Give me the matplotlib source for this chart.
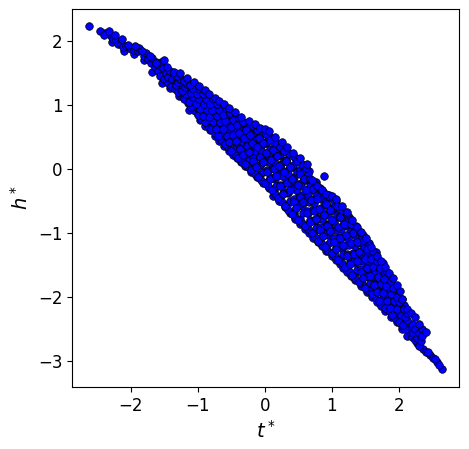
import matplotlib
matplotlib.use("Agg")
import matplotlib.pyplot as pl

# points, inner cloud first
t_core = [
    -1.30, -1.27, -1.33, -1.29, -1.26, -1.31,
    -1.20, -1.17, -1.23, -1.19, -1.16, -1.21,
    -1.10, -1.13, -1.07, -1.11, -1.08, -1.12,
    -1.00, -0.97, -1.03, -0.99, -1.02, -0.98,
    -0.90, -0.93, -0.87, -0.91, -0.88, -0.92,
    -0.80, -0.77, -0.83, -0.79, -0.82, -0.78,
    -0.70, -0.73, -0.67, -0.71, -0.68, -0.72,
    -0.60, -0.57, -0.63, -0.59, -0.62, -0.58,
    -0.50, -0.53, -0.47, -0.51, -0.48, -0.52,
    -0.40, -0.37, -0.43, -0.39, -0.42, -0.38,
    -0.30, -0.33, -0.27, -0.31, -0.28, -0.32,
    -0.20, -0.17, -0.23, -0.19, -0.22, -0.18,
    -0.10, -0.13, -0.07, -0.11, -0.08, -0.12,
    0.00, 0.03, -0.03, 0.01, -0.02, 0.02,
    0.10, 0.07, 0.13, 0.09, 0.12, 0.08,
    0.20, 0.23, 0.17, 0.21, 0.18, 0.22,
    0.30, 0.27, 0.33, 0.29, 0.32, 0.28,
    0.40, 0.43, 0.37, 0.41, 0.38, 0.42,
    0.50, 0.47, 0.53, 0.49, 0.52, 0.48,
    0.60, 0.63, 0.57, 0.61, 0.58, 0.62,
    0.70, 0.67, 0.73, 0.69, 0.72, 0.68,
    0.80, 0.83, 0.77, 0.81, 0.78, 0.82,
    0.90, 0.87, 0.93, 0.89, 0.92, 0.88,
    1.00, 1.03, 0.97, 1.01, 0.98, 1.02,
    1.10, 1.07, 1.13, 1.09, 1.12, 1.08,
    1.20, 1.23, 1.17, 1.21, 1.18, 1.22,
    1.30, 1.27, 1.33, 1.29, 1.32, 1.28,
    1.40, 1.43, 1.37, 1.41, 1.38, 1.42,
    1.50, 1.47, 1.53, 1.49, 1.52, 1.48,
    1.60, 1.63, 1.57, 1.61, 1.58, 1.62,
    1.70, 1.67, 1.73, 1.69, 1.72, 1.68,
    1.80, 1.83, 1.77, 1.81, 1.78, 1.82,
    1.90, 1.87, 1.93, 1.89, 1.92, 1.88,
    2.00, 2.03, 1.97, 2.01, 1.98, 2.02,
    2.10, 2.07, 2.13, 2.09, 2.12, 2.08,
]
h_core = [
    1.20, 1.26, 1.31, 1.36, 1.41, 1.45,
    1.10, 1.17, 1.22, 1.28, 1.33, 1.38,
    0.97, 1.05, 1.12, 1.19, 1.25, 1.31,
    0.85, 0.94, 1.02, 1.10, 1.18, 1.25,
    0.74, 0.83, 0.93, 1.02, 1.10, 1.18,
    0.63, 0.73, 0.82, 0.92, 1.01, 1.09,
    0.51, 0.62, 0.73, 0.83, 0.93, 1.02,
    0.40, 0.52, 0.63, 0.75, 0.85, 0.95,
    0.29, 0.42, 0.54, 0.66, 0.77, 0.87,
    0.18, 0.31, 0.44, 0.57, 0.69, 0.80,
    0.08, 0.22, 0.36, 0.49, 0.61, 0.73,
    -0.02, 0.13, 0.27, 0.41, 0.54, 0.67,
    -0.12, 0.03, 0.19, 0.34, 0.48, 0.61,
    -0.21, -0.05, 0.11, 0.26, 0.41, 0.55,
    -0.33, -0.16, 0.00, 0.15, 0.30, 0.45,
    -0.45, -0.27, -0.10, 0.05, 0.21, 0.35,
    -0.57, -0.39, -0.21, -0.04, 0.12, 0.28,
    -0.70, -0.51, -0.33, -0.15, 0.03, 0.21,
    -0.80, -0.61, -0.43, -0.25, -0.07, 0.12,
    -0.88, -0.69, -0.51, -0.33, -0.15, 0.02,
    -1.00, -0.82, -0.65, -0.48, -0.31, -0.15,
    -1.12, -0.95, -0.78, -0.62, -0.46, -0.30,
    -1.22, -1.05, -0.88, -0.71, -0.54, -0.38,
    -1.31, -1.14, -0.97, -0.80, -0.63, -0.47,
    -1.41, -1.24, -1.07, -0.90, -0.74, -0.58,
    -1.53, -1.36, -1.19, -1.02, -0.86, -0.70,
    -1.65, -1.48, -1.32, -1.16, -1.00, -0.85,
    -1.76, -1.60, -1.44, -1.29, -1.13, -0.98,
    -1.85, -1.70, -1.55, -1.40, -1.25, -1.10,
    -1.95, -1.81, -1.67, -1.53, -1.40, -1.27,
    -2.05, -1.92, -1.80, -1.68, -1.55, -1.43,
    -2.17, -2.05, -1.94, -1.83, -1.71, -1.60,
    -2.28, -2.17, -2.06, -1.95, -1.85, -1.75,
    -2.38, -2.28, -2.18, -2.08, -1.99, -1.90,
    -2.50, -2.43, -2.36, -2.30, -2.24, -2.18,
]

# second pass through the cloud, between the columns above
t_fill = [
    -1.25, -1.23, -1.27, -1.24, -1.26, -1.22, -1.28, -1.25,
    -1.15, -1.13, -1.17, -1.14, -1.16, -1.12, -1.18, -1.15,
    -1.05, -1.03, -1.07, -1.04, -1.06, -1.02, -1.08, -1.05,
    -0.95, -0.93, -0.97, -0.94, -0.96, -0.92, -0.98, -0.95,
    -0.85, -0.83, -0.87, -0.84, -0.86, -0.82, -0.88, -0.85,
    -0.75, -0.73, -0.77, -0.74, -0.76, -0.72, -0.78, -0.75,
    -0.65, -0.63, -0.67, -0.64, -0.66, -0.62, -0.68, -0.65,
    -0.55, -0.53, -0.57, -0.54, -0.56, -0.52, -0.58, -0.55,
    -0.45, -0.43, -0.47, -0.44, -0.46, -0.42, -0.48, -0.45,
    -0.35, -0.33, -0.37, -0.34, -0.36, -0.32, -0.38, -0.35,
    -0.25, -0.23, -0.27, -0.24, -0.26, -0.22, -0.28, -0.25,
    -0.15, -0.13, -0.17, -0.14, -0.16, -0.12, -0.18, -0.15,
    -0.05, -0.03, -0.07, -0.04, -0.06, -0.02, -0.08, -0.05,
    0.05, 0.07, 0.03, 0.06, 0.04, 0.08, 0.02, 0.05,
    0.15, 0.17, 0.13, 0.16, 0.14, 0.18, 0.12, 0.15,
    0.25, 0.27, 0.23, 0.26, 0.24, 0.28, 0.22, 0.25,
    0.35, 0.37, 0.33, 0.36, 0.34, 0.38, 0.32, 0.35,
    0.45, 0.47, 0.43, 0.46, 0.44, 0.48, 0.42, 0.45,
    0.55, 0.57, 0.53, 0.56, 0.54, 0.58, 0.52, 0.55,
    0.65, 0.67, 0.63, 0.66, 0.64, 0.68, 0.62, 0.65,
    0.75, 0.77, 0.73, 0.76, 0.74, 0.78, 0.72, 0.75,
    0.85, 0.87, 0.83, 0.86, 0.84, 0.88, 0.82, 0.85,
    0.95, 0.97, 0.93, 0.96, 0.94, 0.98, 0.92, 0.95,
    1.05, 1.07, 1.03, 1.06, 1.04, 1.08, 1.02, 1.05,
    1.15, 1.17, 1.13, 1.16, 1.14, 1.18, 1.12, 1.15,
    1.25, 1.27, 1.23, 1.26, 1.24, 1.28, 1.22, 1.25,
    1.35, 1.37, 1.33, 1.36, 1.34, 1.38, 1.32, 1.35,
    1.45, 1.47, 1.43, 1.46, 1.44, 1.48, 1.42, 1.45,
    1.55, 1.57, 1.53, 1.56, 1.54, 1.58, 1.52, 1.55,
    1.65, 1.67, 1.63, 1.66, 1.64, 1.68, 1.62, 1.65,
    1.75, 1.77, 1.73, 1.76, 1.74, 1.78, 1.72, 1.75,
    1.85, 1.87, 1.83, 1.86, 1.84, 1.88, 1.82, 1.85,
    1.95, 1.97, 1.93, 1.96, 1.94, 1.98, 1.92, 1.95,
    2.05, 2.07, 2.03, 2.06, 2.04, 2.08, 2.02, 2.05,
]
h_fill = [
    1.15, 1.19, 1.23, 1.26, 1.30, 1.33, 1.37, 1.41,
    1.03, 1.08, 1.13, 1.18, 1.22, 1.26, 1.30, 1.35,
    0.91, 0.97, 1.03, 1.09, 1.14, 1.19, 1.24, 1.29,
    0.79, 0.86, 0.93, 1.00, 1.06, 1.12, 1.18, 1.23,
    0.68, 0.76, 0.83, 0.90, 0.97, 1.03, 1.09, 1.15,
    0.57, 0.65, 0.73, 0.81, 0.88, 0.95, 1.01, 1.07,
    0.45, 0.54, 0.63, 0.71, 0.79, 0.86, 0.93, 0.99,
    0.34, 0.43, 0.52, 0.61, 0.69, 0.77, 0.84, 0.91,
    0.23, 0.33, 0.43, 0.52, 0.61, 0.69, 0.77, 0.84,
    0.13, 0.23, 0.34, 0.44, 0.53, 0.62, 0.70, 0.77,
    0.03, 0.14, 0.25, 0.35, 0.45, 0.54, 0.62, 0.70,
    -0.07, 0.05, 0.17, 0.28, 0.38, 0.48, 0.57, 0.64,
    -0.17, -0.05, 0.07, 0.19, 0.30, 0.40, 0.50, 0.58,
    -0.27, -0.14, -0.01, 0.11, 0.22, 0.32, 0.42, 0.50,
    -0.39, -0.26, -0.13, -0.01, 0.11, 0.21, 0.31, 0.40,
    -0.51, -0.37, -0.24, -0.11, 0.01, 0.12, 0.23, 0.32,
    -0.63, -0.49, -0.35, -0.21, -0.08, 0.04, 0.15, 0.25,
    -0.75, -0.60, -0.46, -0.32, -0.18, -0.05, 0.07, 0.17,
    -0.84, -0.69, -0.55, -0.41, -0.27, -0.14, -0.02, 0.07,
    -0.94, -0.80, -0.66, -0.52, -0.39, -0.27, -0.16, -0.07,
    -1.06, -0.92, -0.79, -0.66, -0.53, -0.41, -0.31, -0.23,
    -1.17, -1.03, -0.90, -0.77, -0.64, -0.52, -0.42, -0.34,
    -1.27, -1.13, -0.99, -0.85, -0.72, -0.60, -0.50, -0.42,
    -1.36, -1.22, -1.08, -0.95, -0.83, -0.71, -0.61, -0.53,
    -1.47, -1.33, -1.19, -1.06, -0.94, -0.82, -0.72, -0.64,
    -1.59, -1.45, -1.32, -1.19, -1.07, -0.96, -0.86, -0.77,
    -1.70, -1.57, -1.44, -1.32, -1.20, -1.09, -0.99, -0.91,
    -1.80, -1.68, -1.56, -1.44, -1.33, -1.22, -1.13, -1.05,
    -1.90, -1.78, -1.67, -1.56, -1.45, -1.36, -1.27, -1.19,
    -2.00, -1.89, -1.79, -1.69, -1.59, -1.50, -1.42, -1.35,
    -2.11, -2.01, -1.92, -1.83, -1.74, -1.66, -1.58, -1.52,
    -2.22, -2.13, -2.04, -1.96, -1.88, -1.81, -1.74, -1.67,
    -2.33, -2.25, -2.17, -2.09, -2.01, -1.95, -1.88, -1.83,
    -2.45, -2.38, -2.31, -2.24, -2.18, -2.12, -2.07, -2.03,
]

# third pass over the wide middle of the band
t_mid = [
    -0.27, -0.25, -0.29, -0.26, -0.28, -0.24,
    -0.17, -0.15, -0.19, -0.16, -0.18, -0.14,
    -0.07, -0.05, -0.09, -0.06, -0.08, -0.04,
    0.03, 0.05, 0.01, 0.04, 0.02, 0.06,
    0.13, 0.15, 0.11, 0.14, 0.12, 0.16,
    0.23, 0.25, 0.21, 0.24, 0.22, 0.26,
    0.33, 0.35, 0.31, 0.34, 0.32, 0.36,
    0.43, 0.45, 0.41, 0.44, 0.42, 0.46,
    0.53, 0.55, 0.51, 0.54, 0.52, 0.56,
    0.63, 0.65, 0.61, 0.64, 0.62, 0.66,
    0.73, 0.75, 0.71, 0.74, 0.72, 0.76,
    0.83, 0.85, 0.81, 0.84, 0.82, 0.86,
    0.93, 0.95, 0.91, 0.94, 0.92, 0.96,
    1.03, 1.05, 1.01, 1.04, 1.02, 1.06,
    1.13, 1.15, 1.11, 1.14, 1.12, 1.16,
    1.23, 1.25, 1.21, 1.24, 1.22, 1.26,
    1.33, 1.35, 1.31, 1.34, 1.32, 1.36,
    1.43, 1.45, 1.41, 1.44, 1.42, 1.46,
    1.53, 1.55, 1.51, 1.54, 1.52, 1.56,
    1.63, 1.65, 1.61, 1.64, 1.62, 1.66,
    1.73, 1.75, 1.71, 1.74, 1.72, 1.76,
]
h_mid = [
    0.12, 0.25, 0.38, 0.50, 0.60, 0.70,
    0.02, 0.17, 0.30, 0.44, 0.55, 0.65,
    -0.08, 0.08, 0.23, 0.37, 0.50, 0.60,
    -0.20, -0.03, 0.12, 0.27, 0.41, 0.52,
    -0.32, -0.15, 0.02, 0.17, 0.30, 0.42,
    -0.44, -0.26, -0.08, 0.08, 0.22, 0.33,
    -0.56, -0.37, -0.19, -0.02, 0.13, 0.25,
    -0.68, -0.49, -0.30, -0.13, 0.04, 0.18,
    -0.77, -0.58, -0.40, -0.22, -0.05, 0.08,
    -0.87, -0.68, -0.50, -0.33, -0.17, -0.03,
    -0.98, -0.81, -0.64, -0.47, -0.33, -0.20,
    -1.10, -0.93, -0.76, -0.60, -0.45, -0.32,
    -1.19, -1.02, -0.85, -0.69, -0.54, -0.41,
    -1.29, -1.12, -0.95, -0.79, -0.64, -0.50,
    -1.40, -1.23, -1.06, -0.90, -0.75, -0.62,
    -1.52, -1.35, -1.19, -1.03, -0.88, -0.75,
    -1.63, -1.47, -1.31, -1.16, -1.01, -0.89,
    -1.74, -1.58, -1.43, -1.28, -1.14, -1.02,
    -1.84, -1.69, -1.54, -1.40, -1.27, -1.15,
    -1.94, -1.80, -1.67, -1.54, -1.41, -1.30,
    -2.05, -1.92, -1.80, -1.68, -1.57, -1.47,
]

# narrow upper left end of the band
t_head = [-2.38, -2.30, -2.27, -2.22, -2.20, -2.15, -2.12, -2.08, -2.03, -2.00, -1.95, -1.90,
          -1.88, -1.80, -1.78, -1.74, -1.70, -1.68, -1.64, -1.62, -1.60, -1.58, -1.55, -1.56,
          -1.52, -1.50, -1.48, -1.45, -1.44, -1.42, -1.40, -1.38, -1.36, -1.34, -1.33, -1.31]
h_head = [2.12, 2.08, 2.03, 2.02, 1.96, 1.96, 1.90, 1.92, 1.90, 1.87, 1.86, 1.84,
          1.89, 1.76, 1.81, 1.72, 1.66, 1.73, 1.60, 1.68, 1.54, 1.62, 1.68, 1.45,
          1.58, 1.40, 1.50, 1.35, 1.44, 1.54, 1.30, 1.40, 1.48, 1.25, 1.34, 1.43]

# lower right end and the thin tail
t_tail = [2.16, 2.18, 2.20, 2.20, 2.22, 2.24, 2.25, 2.28, 2.30, 2.31, 2.33, 2.35, 2.41, 2.44, 2.51, 2.54, 2.60]
h_tail = [-2.48, -2.55, -2.42, -2.62, -2.56, -2.66, -2.50, -2.63, -2.55, -2.76, -2.68, -2.49, -2.85, -2.86, -2.95, -2.97, -3.06]

# lower side of the band
t_lower = [-2.28, -2.10, -1.95, -1.81, -1.68, -1.54, -1.41, -1.28, -1.13, -0.97, -0.90, -0.82,
           -0.75, -0.68, -0.61, -0.54, -0.48, -0.42, -0.36, -0.30, -0.21, -0.12, -0.03, 0.06,
           0.12, 0.21, 0.30, 0.38, 0.45, 0.52, 0.60, 0.66, 0.72, 0.79, 0.85, 0.92, 1.00, 1.06,
           1.12, 1.17, 1.22, 1.28, 1.34, 1.43, 1.52, 1.60, 1.67, 1.73, 1.79, 1.88, 1.97, 2.05,
           2.13, 2.27, 2.36, 2.46, 2.57, 2.64]
h_lower = [1.99, 1.84, 1.80, 1.70, 1.52, 1.34, 1.26, 1.14, 0.92, 0.76, 0.68, 0.61,
           0.52, 0.44, 0.36, 0.28, 0.22, 0.17, 0.11, 0.05, -0.04, -0.13, -0.21, -0.30,
           -0.42, -0.50, -0.59, -0.68, -0.78, -0.85, -0.93, -1.00, -1.07, -1.13, -1.20, -1.28, -1.36, -1.42,
           -1.48, -1.54, -1.60, -1.66, -1.73, -1.82, -1.92, -2.00, -2.07, -2.14, -2.21, -2.30, -2.38, -2.49,
           -2.60, -2.71, -2.80, -2.90, -3.01, -3.12]

# upper side of the band, drawn last
t_upper = [-2.63, -2.46, -2.40, -2.33, -2.24, -2.13, -2.05, -1.94, -1.84, -1.72, -1.62, -1.51,
           -1.46, -1.36, -1.27, -1.16, -1.06, -0.98, -0.90, -0.83, -0.75, -0.68, -0.61, -0.53,
           -0.45, -0.35, -0.24, -0.15, -0.07, 0.00, 0.06, 0.15, 0.25, 0.33, 0.42, 0.52,
           0.63, 0.70, 0.88, 0.78, 0.85, 0.92, 1.00, 1.07, 1.15, 1.22, 1.30, 1.37, 1.44, 1.51,
           1.59, 1.67, 1.73, 1.79, 1.85, 1.91, 1.97, 2.05, 2.13, 2.18, 2.24, 2.30, 2.34, 2.40]
h_upper = [2.24, 2.16, 2.10, 2.15, 2.09, 2.03, 1.94, 1.92, 1.85, 1.76, 1.66, 1.70,
           1.59, 1.52, 1.50, 1.43, 1.36, 1.30, 1.23, 1.17, 1.11, 1.06, 1.01, 0.95,
           0.89, 0.82, 0.75, 0.70, 0.65, 0.62, 0.59, 0.50, 0.42, 0.34, 0.26, 0.17,
           0.08, -0.17, -0.11, -0.26, -0.33, -0.38, -0.42, -0.47, -0.58, -0.67, -0.79, -0.90, -0.98, -1.07,
           -1.22, -1.36, -1.44, -1.53, -1.62, -1.70, -1.81, -2.02, -2.18, -2.25, -2.31, -2.42, -2.60, -2.54]

xticks = [-2, -1, 0, 1, 2]
yticks = [-3, -2, -1, 0, 1, 2]

fig = pl.figure(figsize=(4.69, 4.49), dpi=100)
ax = fig.add_axes([72 / 469, 1 - 387 / 449, 387 / 469, 378 / 449])

layers = [(t_lower, h_lower), (t_tail, h_tail), (t_head, h_head), (t_mid, h_mid),
          (t_fill, h_fill), (t_core, h_core), (t_upper, h_upper)]
for t, h in layers:
    ax.scatter(t, h, s=30, c="blue", edgecolors="black", linewidths=0.5)

ax.set_xlim(-2.88, 2.9)
ax.set_ylim(-3.4, 2.5)
ax.set_xticks(xticks)
ax.set_yticks(yticks)
ax.tick_params(labelsize=12)
ax.set_xlabel(r"$t^*$", fontsize=14)
ax.set_ylabel(r"$h^*$", fontsize=14)
fig.savefig("out.png", dpi=100)
